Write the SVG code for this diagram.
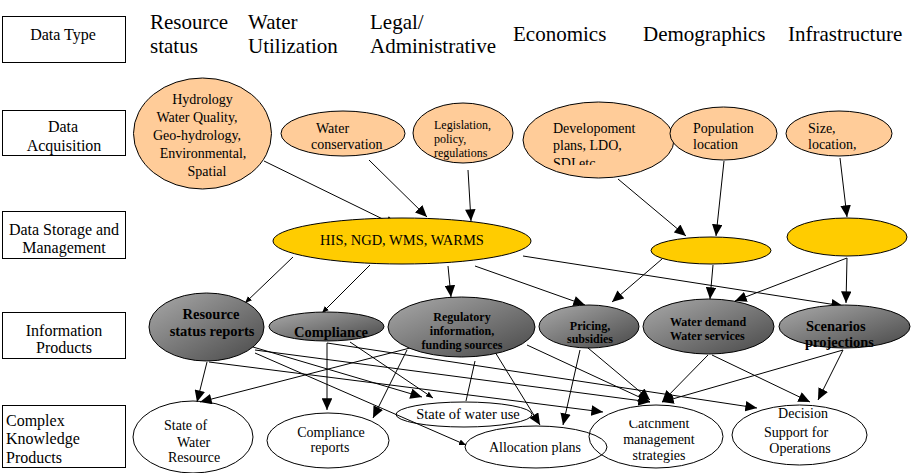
<svg xmlns="http://www.w3.org/2000/svg" width="912" height="473" viewBox="0 0 912 473">
<style>
text{font-family:"Liberation Serif","Times New Roman",serif;fill:#000}
.lbl{font-size:16px}
.hdr{font-size:21px}
.t14{font-size:14px}
.t12{font-size:12px}
.b14{font-size:14.5px;font-weight:bold}
.b12{font-size:12px;font-weight:bold}
.box{fill:#fff;stroke:#000;stroke-width:1}
.acq{fill:#FFCC99;stroke:#000;stroke-width:1}
.sto{fill:#FFCC00;stroke:#000;stroke-width:1}
.inf{fill:url(#gray);stroke:#000;stroke-width:1}
.kno{fill:none;stroke:#000;stroke-width:1}
.c{stroke:#000;stroke-width:1;fill:none}
.a{marker-end:url(#big)}
.s{marker-end:url(#small)}
</style>
<defs>
<linearGradient id="gray" x1="0" y1="0" x2="1" y2="1">
<stop offset="0" stop-color="#aaaaaa"/>
<stop offset="1" stop-color="#484848"/>
</linearGradient>
<marker id="big" markerUnits="userSpaceOnUse" viewBox="0 0 10 9" markerWidth="12" markerHeight="10.5" refX="10" refY="4.5" orient="auto">
<path d="M0,0 L10,4.5 L0,9 z" fill="#000"/>
</marker>
<marker id="small" markerUnits="userSpaceOnUse" viewBox="0 0 6 5" markerWidth="7" markerHeight="6" refX="6" refY="2.5" orient="auto">
<path d="M0,0 L6,2.5 L0,5 z" fill="#000"/>
</marker>
<clipPath id="clipDev"><rect x="520" y="100" width="160" height="65"/></clipPath>
<clipPath id="clipCat"><rect x="580" y="420.5" width="160" height="60"/></clipPath>
</defs>

<g id="row-labels">
<g id="lbl-datatype"><rect class="box" x="2.5" y="16.5" width="123" height="46"/><text class="lbl" x="63" y="40" text-anchor="middle">Data Type</text></g>
<g id="lbl-acq"><rect class="box" x="2.5" y="110.5" width="123" height="45"/><text class="lbl" x="63" y="132" text-anchor="middle">Data</text><text class="lbl" x="64" y="151" text-anchor="middle">Acquisition</text></g>
<g id="lbl-storage"><rect class="box" x="2.5" y="211.5" width="123" height="47"/><text class="lbl" x="64" y="235" text-anchor="middle">Data Storage and</text><text class="lbl" x="64" y="253" text-anchor="middle">Management</text></g>
<g id="lbl-info"><rect class="box" x="2.5" y="312.5" width="123" height="46"/><text class="lbl" x="64" y="336" text-anchor="middle">Information</text><text class="lbl" x="64" y="353" text-anchor="middle">Products</text></g>
<g id="lbl-complex"><rect class="box" x="2.5" y="405.5" width="123" height="62"/><text class="lbl" x="6" y="426">Complex</text><text class="lbl" x="6" y="444">Knowledge</text><text class="lbl" x="6" y="463">Products</text></g>
</g>

<g id="headers">
<text class="hdr" x="150" y="29">Resource</text><text class="hdr" x="150" y="53">status</text>
<text class="hdr" x="248" y="29">Water</text><text class="hdr" x="248" y="53">Utilization</text>
<text class="hdr" x="370" y="29">Legal/</text><text class="hdr" x="370" y="53">Administrative</text>
<text class="hdr" x="513" y="41">Economics</text>
<text class="hdr" x="643" y="41">Demographics</text>
<text class="hdr" x="788" y="41">Infrastructure</text>
</g>

<g id="connectors">
<line class="c a" x1="264" y1="161" x2="397" y2="226"/>
<line class="c a" x1="369" y1="160" x2="427" y2="217"/>
<line class="c a" x1="468" y1="170" x2="471" y2="221"/>
<line class="c a" x1="618" y1="179" x2="686" y2="236"/>
<line class="c a" x1="724" y1="161" x2="716" y2="236"/>
<line class="c a" x1="840" y1="158" x2="847" y2="217"/>
<line class="c s" x1="293" y1="257" x2="245" y2="303"/>
<line class="c s" x1="370" y1="265" x2="322" y2="313"/>
<line class="c a" x1="448" y1="266" x2="451" y2="297"/>
<line class="c a" x1="475" y1="266" x2="585" y2="305"/>
<line class="c a" x1="523" y1="256" x2="843" y2="306"/>
<line class="c a" x1="662" y1="259" x2="612" y2="302"/>
<line class="c a" x1="713" y1="265" x2="710" y2="299"/>
<line class="c a" x1="847" y1="258" x2="735" y2="301"/>
<line class="c a" x1="847" y1="258" x2="846" y2="303"/>
<line class="c a" x1="207" y1="362" x2="197" y2="402"/>
<line class="c a" x1="253" y1="347" x2="422" y2="397"/>
<line class="c s" x1="255" y1="353" x2="466" y2="445"/>
<line class="c a" x1="255" y1="350" x2="650" y2="402"/>
<line class="c a" x1="209" y1="362" x2="603" y2="412"/>
<line class="c a" x1="327" y1="343" x2="327" y2="410"/>
<line class="c s" x1="350" y1="342" x2="433" y2="398"/>
<line class="c a" x1="327" y1="343" x2="757" y2="408"/>
<line class="c a" x1="410" y1="348" x2="200" y2="402"/>
<line class="c a" x1="407" y1="350" x2="373" y2="418"/>
<line class="c" x1="475" y1="361" x2="466" y2="401"/>
<line class="c a" x1="495" y1="352" x2="540" y2="425"/>
<line class="c a" x1="527" y1="345" x2="650" y2="402"/>
<line class="c a" x1="580" y1="350" x2="563" y2="425"/>
<line class="c a" x1="588" y1="348" x2="650" y2="400"/>
<line class="c a" x1="708" y1="355" x2="662" y2="402"/>
<line class="c a" x1="712" y1="355" x2="810" y2="402"/>
<line class="c a" x1="843" y1="350" x2="662" y2="402"/>
<line class="c a" x1="843" y1="350" x2="818" y2="400"/>
</g>

<g id="acq-hydrology"><ellipse class="acq" cx="202.5" cy="133.5" rx="69" ry="55.5"/>
<text class="t14" text-anchor="middle"><tspan x="202.5" y="104">Hydrology</tspan><tspan x="197" y="122">Water Quality,</tspan><tspan x="197" y="140">Geo-hydrology,</tspan><tspan x="203" y="158">Environmental,</tspan><tspan x="207" y="176">Spatial</tspan></text></g>
<g id="acq-conservation"><ellipse class="acq" cx="343" cy="133.5" rx="62" ry="22.5"/>
<text class="t14" x="316" y="133">Water</text><text class="t14" x="311" y="149">conservation</text></g>
<g id="acq-legislation"><ellipse class="acq" cx="463" cy="133" rx="50" ry="30"/>
<text class="t12" x="434" y="129">Legislation,</text><text class="t12" x="434" y="143">policy,</text><text class="t12" x="434" y="157">regulations</text></g>
<g id="acq-development"><ellipse class="acq" cx="598.5" cy="140" rx="75.5" ry="38"/>
<g clip-path="url(#clipDev)"><text class="t14" x="553" y="133">Developoment</text><text class="t14" x="553" y="150">plans, LDO,</text><text class="t14" x="553" y="168">SDI etc</text></g></g>
<g id="acq-population"><ellipse class="acq" cx="723.5" cy="133.5" rx="53.5" ry="26.5"/>
<text class="t14" x="693" y="133">Population</text><text class="t14" x="693" y="149">location</text></g>
<g id="acq-size"><ellipse class="acq" cx="839" cy="133.5" rx="53" ry="22.5"/>
<text class="t14" x="808" y="133">Size,</text><text class="t14" x="808" y="149">location,</text></g>

<g id="sto-his"><ellipse class="sto" cx="402" cy="241" rx="129" ry="23"/>
<text class="t14" style="font-size:14.5px" x="402" y="245" text-anchor="middle">HIS, NGD, WMS, WARMS</text></g>
<g id="sto-demographics"><ellipse class="sto" cx="711" cy="250.5" rx="60" ry="13.5"/></g>
<g id="sto-infrastructure"><ellipse class="sto" cx="847" cy="237" rx="60" ry="19"/></g>

<g id="inf-resource"><ellipse class="inf" cx="206.5" cy="327" rx="57.5" ry="34"/>
<text class="b14" x="211" y="319" text-anchor="middle">Resource</text><text class="b14" x="212" y="336" text-anchor="middle">status reports</text></g>
<g id="inf-compliance"><ellipse class="inf" cx="326.5" cy="326.5" rx="57.5" ry="14.5"/>
<text class="b14" x="331" y="337" text-anchor="middle">Compliance</text></g>
<g id="inf-regulatory"><ellipse class="inf" cx="461.5" cy="327" rx="73.5" ry="30"/>
<text class="b12" text-anchor="middle"><tspan x="462" y="321">Regulatory</tspan><tspan x="462" y="335">information,</tspan><tspan x="462" y="349">funding sources</tspan></text></g>
<g id="inf-pricing"><ellipse class="inf" cx="589" cy="326.5" rx="50" ry="21.5"/>
<text class="b12" text-anchor="middle"><tspan x="590" y="330">Pricing,</tspan><tspan x="590" y="343">subsidies</tspan></text></g>
<g id="inf-waterdemand"><ellipse class="inf" cx="708.5" cy="326.5" rx="65.5" ry="27.5"/>
<text class="b12" x="670" y="326">Water demand</text><text class="b12" x="670" y="340">Water services</text></g>
<g id="inf-scenarios"><ellipse class="inf" cx="844.5" cy="326.5" rx="65.5" ry="21.5"/>
<text class="b14" x="806" y="331">Scenarios</text><text class="b14" x="805" y="347">projections</text></g>

<g id="kno-state-resource"><ellipse class="kno" cx="193" cy="437" rx="60" ry="36"/>
<text class="t14" x="164" y="430">State of</text><text class="t14" x="177" y="447">Water</text><text class="t14" x="168" y="462">Resource</text></g>
<g id="kno-compliance-reports"><ellipse class="kno" cx="328" cy="440.5" rx="61" ry="27.5"/>
<text class="t14" x="331" y="437" text-anchor="middle">Compliance</text><text class="t14" x="330" y="452" text-anchor="middle">reports</text></g>
<g id="kno-water-use"><ellipse class="kno" cx="464" cy="414.5" rx="68" ry="12.5"/>
<text class="t14" style="font-size:14.5px" x="468" y="419" text-anchor="middle">State of water use</text></g>
<g id="kno-allocation"><ellipse class="kno" cx="536" cy="447" rx="71" ry="21"/>
<text class="t14" x="535" y="452" text-anchor="middle">Allocation plans</text></g>
<g id="kno-catchment"><ellipse class="kno" cx="656" cy="436.5" rx="67" ry="31.5"/>
<g clip-path="url(#clipCat)"><text class="t14" x="659" y="428" text-anchor="middle">Catchment</text></g>
<text class="t14" x="659" y="444" text-anchor="middle">management</text><text class="t14" x="659" y="460" text-anchor="middle">strategies</text></g>
<g id="kno-decision"><ellipse class="kno" cx="799.5" cy="435" rx="67.5" ry="30"/>
<text class="t14" x="803" y="418" text-anchor="middle">Decision</text><text class="t14" x="796" y="437" text-anchor="middle">Support for</text><text class="t14" x="800" y="453" text-anchor="middle">Operations</text></g>
</svg>
